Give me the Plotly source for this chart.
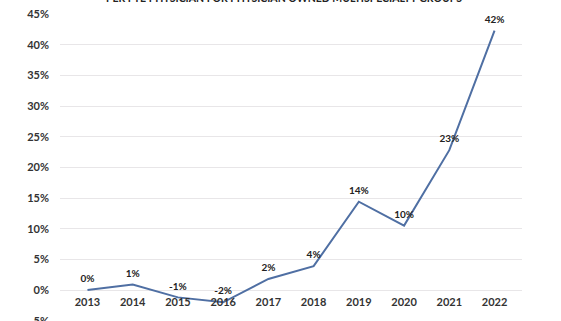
import plotly.graph_objects as go

years = ["2013", "2014", "2015", "2016", "2017", "2018", "2019", "2020", "2021", "2022"]
values = [0.0, 0.9, -1.2, -2.0, 1.8, 3.9, 14.4, 10.5, 22.8, 42.3]
labels = ["0%", "1%", "-1%", "-2%", "2%", "4%", "14%", "10%", "23%", "42%"]
ytick_vals = [-5, 0, 5, 10, 15, 20, 25, 30, 35, 40, 45]
ytick_text = ["-5%", "0%", "5%", "10%", "15%", "20%", "25%", "30%", "35%", "40%", "45%"]
title = "PER FTE PHYSICIAN FOR PHYSICIAN OWNED MULTISPECIALTY GROUPS"

ymin, ymax = -5.05, 45
W, H = 561, 321
mt, mb, ml, mr = 14, 0, 60, 39

fig = go.Figure()
fig.add_trace(go.Scatter(
    x=years, y=values, mode="lines+markers+text",
    line=dict(color="#4f6fa3", width=2),
    marker=dict(size=7, opacity=0),
    text=labels, textposition="top center",
    textfont=dict(family="Lato", size=10, color="#222222", weight="bold"),
    cliponaxis=False, hoverinfo="skip",
))

zero_pos = (0 - ymin) / (ymax - ymin)
fig.update_layout(
    width=W, height=H,
    margin=dict(t=mt, b=mb, l=ml, r=mr),
    paper_bgcolor="white", plot_bgcolor="white",
    showlegend=False,
    xaxis=dict(
        type="category", anchor="free", position=zero_pos,
        showgrid=False, zeroline=False, showline=False, ticks="",
        tickfont=dict(family="Lato", size=11, color="#333333", weight="bold"),
        ticklabelstandoff=4, automargin=False,
    ),
    yaxis=dict(
        range=[ymin, ymax], tickvals=ytick_vals, ticktext=ytick_text,
        showgrid=True, gridcolor="#e8e6e8", gridwidth=1,
        zeroline=False, showline=False, ticks="",
        tickfont=dict(family="Lato", size=11, color="#333333", weight="bold"),
        ticklabelstandoff=10, ticklabeloverflow="allow", automargin=False,
    ),
    annotations=[dict(
        text=title, xref="paper", yref="paper",
        x=(284 - ml) / (W - ml - mr), y=1 + 8 / (H - mt - mb),
        xanchor="center", yanchor="bottom", showarrow=False,
        font=dict(family="Lato", size=10.5, color="#222222", weight="bold"),
    )],
)

fig.write_html("out.html")
